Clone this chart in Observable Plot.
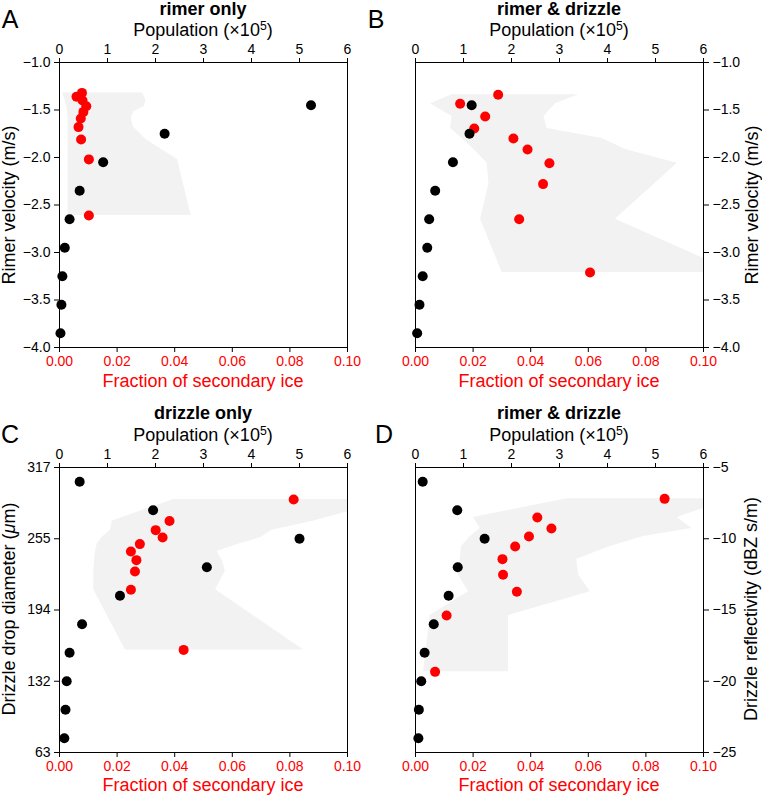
<!DOCTYPE html>
<html>
<head>
<meta charset="utf-8">
<script src="https://cdn.jsdelivr.net/npm/d3@7"></script>
<script src="https://cdn.jsdelivr.net/npm/@observablehq/plot@0.6"></script>
<style>
  body { margin: 0; background: #fff; }
  #root { position: relative; width: 762px; height: 795px; overflow: hidden;
          font-family: "Liberation Sans", Arial, Helvetica, sans-serif; background: #fff; }
  .pl { position: absolute; }
  .t { position: absolute; white-space: nowrap; line-height: 1; transform: translate(-50%, -50%); color: #000; }
  .lab { font-size: 18px; }
  .ttl { font-size: 18px; font-weight: bold; }
  .letter { font-size: 25px; }
  .red { color: #ff0000; }
  .rot { transform: translate(-50%, -50%) rotate(-90deg); }
  .sup { font-size: 0.68em; position: relative; top: -0.5em; }
</style>
</head>
<body>
<div id="root"></div>
<script>
// ---------- shared axes ----------
const POPMAX = 6;              // population axis maximum (x10^5), mapped onto fraction 0..0.1
const FRACMAX = 0.1;
const fracTicks = [0, 0.02, 0.04, 0.06, 0.08, 0.1];
const popTicks = [0, 1, 2, 3, 4, 5, 6];
const velTicks = [-4, -3.5, -3, -2.5, -2, -1.5, -1];
const diamTicks = [63, 132, 194, 255, 317];
const reflTicks = [-25, -20, -15, -10, -5];

// ---------- Panel A: rimer only ----------
const aBlackV = [-1.45, -1.75, -2.05, -2.35, -2.65, -2.95, -3.25, -3.55, -3.85];
const aBlackPop = [5.24, 2.19, 0.91, 0.42, 0.21, 0.11, 0.06, 0.04, 0.02];
const aRedV = [-1.32, -1.36, -1.40, -1.46, -1.52, -1.59, -1.68, -1.81, -2.02, -2.61];
const aRedFrac = [0.0078, 0.0059, 0.0080, 0.0093, 0.0083, 0.0074, 0.0066, 0.0075, 0.0102, 0.0102];
const aBandLo = [0.0012, 0.0015, 0.0020, 0.0025, 0.0028, 0.0030, 0.0030, 0.0030, 0.0030, 0.0030];
const aBandHi = [0.0289, 0.0295, 0.0300, 0.0295, 0.0257, 0.0249, 0.0257, 0.0300, 0.0410, 0.0457];

// ---------- Panel B: rimer & drizzle (velocity) ----------
const bBlackV = [-1.45, -1.75, -2.05, -2.35, -2.65, -2.95, -3.25, -3.55, -3.85];
const bBlackPop = [1.17, 1.125, 0.78, 0.41, 0.285, 0.245, 0.15, 0.083, 0.035];
const bRedV = [-1.34, -1.435, -1.568, -1.694, -1.80, -1.915, -2.06, -2.28, -2.65, -3.21];
const bRedFrac = [0.0287, 0.0155, 0.0242, 0.0204, 0.0340, 0.0389, 0.0465, 0.0443, 0.0360, 0.0606];
const bBandLo = [0.0127, 0.0052, 0.0127, 0.0122, 0.0162, 0.0203, 0.0249, 0.0255, 0.0226, 0.0301];
const bBandHi = [0.0567, 0.0486, 0.0446, 0.0457, 0.0648, 0.0729, 0.0909, 0.0830, 0.0694, 0.1110];

// ---------- Panel C: drizzle only (drop diameter, µm) ----------
const cBlackD = [304.6, 279.8, 255, 230.6, 206.2, 181.6, 156.8, 132, 104.4, 76.8];
const cBlackPop = [0.42, 1.95, 5.0, 3.07, 1.26, 0.47, 0.21, 0.15, 0.125, 0.10];
const cRedD = [289.2, 270.4, 262.5, 256.1, 250.4, 244.1, 236.7, 226.9, 211.3, 159.3];
const cRedFrac = [0.0813, 0.0382, 0.0334, 0.0358, 0.0279, 0.0248, 0.0267, 0.0262, 0.0248, 0.0431];
const cBandLo = [0.0397, 0.0183, 0.0177, 0.0148, 0.0131, 0.0125, 0.0122, 0.0119, 0.0119, 0.0229];
const cBandHi = [0.1150, 0.0884, 0.0738, 0.0700, 0.0624, 0.0547, 0.0565, 0.0576, 0.0542, 0.0848];

// ---------- Panel D: rimer & drizzle (reflectivity) ----------
const dBlackZ = [-6, -8, -10, -12, -14, -16, -18, -20, -22, -24];
const dBlackPop = [0.15, 0.87, 1.44, 0.88, 0.69, 0.38, 0.19, 0.12, 0.07, 0.06];
const dRedZ = [-7.20, -8.51, -9.28, -9.84, -10.54, -11.43, -12.53, -13.72, -15.39, -19.34];
const dRedFrac = [0.0865, 0.0423, 0.0472, 0.0394, 0.0346, 0.0302, 0.0304, 0.0352, 0.0108, 0.0068];
const dBandLo = [0.0526, 0.0201, 0.0225, 0.0190, 0.0160, 0.0155, 0.0149, 0.0184, 0.0051, 0.0028];
const dBandHi = [0.1100, 0.0908, 0.0960, 0.0792, 0.0676, 0.0560, 0.0566, 0.0607, 0.0323, 0.0323];

const FONT = '"Liberation Sans", Arial, Helvetica, sans-serif';
const root = document.getElementById("root");

function panel(cfg) {
  const W = 381, H = 397;
  const mt = cfg.row === 0 ? 62 : 69;
  const mb = cfg.row === 0 ? 50 : 43;
  const ml = cfg.side === "left" ? 59 : 34;
  const mr = cfg.side === "left" ? 34 : 59;
  const band = cfg.redY.map((y, i) => ({y, lo: cfg.bandLo[i], hi: cfg.bandHi[i]}));
  const red = cfg.redY.map((y, i) => ({y, f: cfg.redF[i]}));
  const black = cfg.blackY.map((y, i) => ({y, p: cfg.blackP[i]}));
  let yScale;
  if (cfg.piecewise) {
    const top = mt, bot = H - mb, n = cfg.yTicks.length;
    yScale = {type: "linear", domain: cfg.yTicks, range: cfg.yTicks.map((_, i) => bot - i * (bot - top) / (n - 1))};
  } else {
    yScale = {type: "linear", domain: [cfg.yTicks[0], cfg.yTicks[cfg.yTicks.length - 1]]};
  }
  const svg = Plot.plot({
    width: W, height: H,
    marginTop: mt, marginBottom: mb, marginLeft: ml, marginRight: mr,
    style: {fontFamily: FONT, fontSize: "14px", background: "transparent", color: "#000"},
    x: {type: "linear", domain: [0, FRACMAX]},
    y: yScale,
    marks: [
      Plot.areaX(band, {y: "y", x1: "lo", x2: "hi", fill: "#f2f2f2", clip: true}),
      Plot.frame({stroke: "#000", strokeWidth: 1}),
      Plot.axisX(fracTicks, {anchor: "bottom", tickFormat: d3.format(".2f"), tickSize: 5, tickPadding: 4,
                             stroke: "#000", fill: "#ff0000", label: null, fontSize: 14}),
      Plot.axisX(popTicks.map(p => p / POPMAX * FRACMAX), {anchor: "top", tickFormat: d => String(Math.round(d / FRACMAX * POPMAX)),
                             tickSize: 5, tickPadding: 4, stroke: "#000", fill: "#000", label: null, fontSize: 14}),
      Plot.axisY(cfg.yTicks, {anchor: cfg.side, tickFormat: cfg.yFormat, tickSize: 5, tickPadding: 4,
                              stroke: "#000", fill: "#000", label: null, fontSize: 14}),
      Plot.dot(red, {x: "f", y: "y", r: 5, fill: "#ff0000"}),
      Plot.dot(black, {x: d => d.p / POPMAX * FRACMAX, y: "y", r: 5, fill: "#000"})
    ]
  });
  const holder = document.createElement("div");
  holder.className = "pl";
  holder.style.left = cfg.left + "px";
  holder.style.top = cfg.top + "px";
  holder.appendChild(svg);
  root.appendChild(holder);
}

panel({row: 0, side: "left", left: 0, top: 0, yTicks: velTicks, yFormat: d3.format(".1f"),
       blackY: aBlackV, blackP: aBlackPop, redY: aRedV, redF: aRedFrac, bandLo: aBandLo, bandHi: aBandHi});
panel({row: 0, side: "right", left: 381, top: 0, yTicks: velTicks, yFormat: d3.format(".1f"),
       blackY: bBlackV, blackP: bBlackPop, redY: bRedV, redF: bRedFrac, bandLo: bBandLo, bandHi: bBandHi});
panel({row: 1, side: "left", left: 0, top: 398, yTicks: diamTicks, yFormat: d3.format("d"), piecewise: true,
       blackY: cBlackD, blackP: cBlackPop, redY: cRedD, redF: cRedFrac, bandLo: cBandLo, bandHi: cBandHi});
panel({row: 1, side: "right", left: 381, top: 398, yTicks: reflTicks, yFormat: d3.format("d"),
       blackY: dBlackZ, blackP: dBlackPop, redY: dRedZ, redF: dRedFrac, bandLo: dBandLo, bandHi: dBandHi});

// ---------- text ----------
function txt(html, x, y, cls) {
  const el = document.createElement("div");
  el.className = "t " + cls;
  el.innerHTML = html;
  el.style.left = x + "px";
  el.style.top = y + "px";
  root.appendChild(el);
}
const popLabel = 'Population (×10<span class="sup">5</span>)';
const fracLabel = "Fraction of secondary ice";
// panel letters
txt("A", 10, 19, "letter");
txt("B", 376, 19, "letter");
txt("C", 10, 434, "letter");
txt("D", 384, 434, "letter");
// titles
txt("rimer only", 203, 9, "ttl");
txt("rimer &amp; drizzle", 559, 9, "ttl");
txt("drizzle only", 203, 413, "ttl");
txt("rimer &amp; drizzle", 559, 413, "ttl");
// population labels
txt(popLabel, 203, 30, "lab");
txt(popLabel, 559, 30, "lab");
txt(popLabel, 203, 435, "lab");
txt(popLabel, 559, 435, "lab");
// fraction labels
txt(fracLabel, 203, 381, "lab red");
txt(fracLabel, 559, 381, "lab red");
txt(fracLabel, 203, 785, "lab red");
txt(fracLabel, 559, 785, "lab red");
// y labels
txt("Rimer velocity (m/s)", 9, 205, "lab rot");
txt("Rimer velocity (m/s)", 752, 205, "lab rot");
txt('Drizzle drop diameter (<i>μ</i>m)', 9, 609, "lab rot");
txt("Drizzle reflectivity (dBZ s/m)", 751, 609, "lab rot");
</script>
</body>
</html>
